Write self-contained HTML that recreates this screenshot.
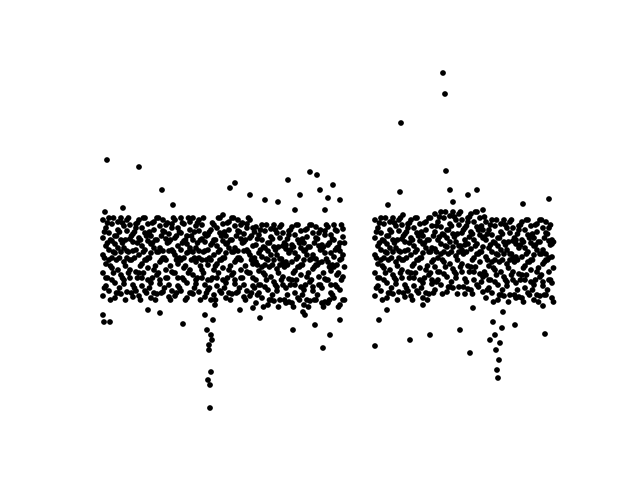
<!DOCTYPE html>
<html><head><meta charset="utf-8"><style>
html,body{margin:0;padding:0;background:#fff;}
svg{display:block;}
</style></head><body>
<svg id="chart" width="640" height="480" xmlns="http://www.w3.org/2000/svg"></svg>
<script>
const times1 = [0,3,6,9,12,15,18,21,24,27,30,33,36,39,42,45,48,51,54,57,60,63,66,69,72,75,78,81,84,87,90,93,96,99,102,105,108,111,114,117,120,123,126,129,132,135,138,141,144,147,150,153,156,159,162,165,168,171,174,177,180,183,186,189,192,195,198,201,204,207,210,213,216,219,222,225,228,231,234,237,240];
const fluxes1 = [
[134,157,175,192,210],[144,166,184,202,152],[139,170,180,197,212],[150,162,189,206,172],[132,177,147,194,186],[160,200,137,182,208],
[136,155,178,190,212],[146,168,182,204,150],[138,172,179,199,210],[152,160,191,205,170],[133,179,145,196,188],[158,202,139,180,206],
[134,157,175,192,210],[144,166,184,202,152],[139,170,180,197,212],[150,162,189,206,172],[132,177,147,194,186],[160,200,137,182,208],
[136,155,178,190,212],[146,168,182,204,150],[138,172,179,199,210],[152,160,191,205,170],[133,179,145,196,188],[158,202,139,180,206],
[134,157,175,192,210],[144,166,184,202,152],[139,170,180,197,212],[150,162,189,206,172],[132,177,147,194,186],[160,200,137,182,208],
[136,155,178,190,212],[146,168,182,204,150],[138,172,179,199,210],[152,160,191,205,170],[133,179,145,196,188],[140,180,150,165,195],
[130,150,170,185,200],[135,160,175,190,205],[144,166,184,202,152],[139,170,180,197,212],[150,162,189,206,172],[132,177,147,194,186],
[160,200,137,182,208],[136,155,178,190,212],[146,168,182,204,150],[138,172,179,199,210],[152,160,191,205,170],[133,179,145,196,188],
[158,202,139,180,206],[134,157,175,192,210],[144,166,184,202,152],
[127,150,168,185,203],[137,159,177,195,145],[132,163,173,190,205],[143,155,182,199,165],[125,170,140,187,179],[153,193,130,175,201],
[129,148,170,183,205],[139,161,175,197,143],[130,165,171,192,203],[145,153,184,197,167],[127,168,142,185,181],[151,195,128,177,199],
[127,150,168,185,203],[137,159,177,195,145],[132,163,173,190,205],[143,155,182,199,165],[125,170,140,187,179],[153,193,130,175,201],
[129,148,170,183,205],[139,161,175,197,143],[130,165,171,192,203],[145,153,184,197,167],[127,168,142,185,181],[151,195,128,177,199],
[127,150,168,185,203],[137,159,177,195,145],[132,163,173,190,205],[143,155,182,199,165],[125,170,140,187,179],[153,193,130,175,201]
];
const fluxesB1 = [
[142,172,198],[152,187,207],[130,164,190],[157,178,212],[137,194,170],
[142,172,198],[152,187,207],[130,164,190],[157,178,212],[137,194,170],
[142,172,198],[152,187,207],[130,164,190],[157,178,212],[137,194,170],
[142,172,198],[152,187,207],[130,164,190],[157,178,212],[137,194,170],
[142,172,198],[152,187,207],[130,164,190],[157,178,212],[137,194,170],
[142,172,198],[152,187,207],[130,164,190],[157,178,212],[137,194,170],
[142,172,198],[152,187,207],[130,164,190],[157,178,212],[137,194,170],
[142,172,198],[152,187,207],[130,164,190],[157,178,212],[137,194,170],
[142,172,198],[152,187,207],[130,164,190],[157,178,212],[137,194,170],
[142,172,198],[152,187,207],[130,164,190],[157,178,212],[137,194,170],
[142,172,198],
[135,165,191],[145,180,200],[123,157,183],[150,171,205],[130,187,163],
[135,165,191],[145,180,200],[123,157,183],[150,171,205],[130,187,163],
[135,165,191],[145,180,200],[123,157,183],[150,171,205],[130,187,163],
[135,165,191],[145,180,200],[123,157,183],[150,171,205],[130,187,163],
[135,165,191],[145,180,200],[123,157,183],[150,171,205],[130,187,163],
[135,165,191],[145,180,200],[123,157,183],[150,171,205],[130,187,163]
];
const times2 = [272,275,278,281,284,287,290,293,296,299,302,305,308,311,314,317,320,323,326,329,332,335,338,341,344,347,350,353,356,359,362,365,368,371,374,377,380,383,386,389,392,395,398,401,404,407,410,413,416,419,422,425,428,431,434,437,440,443,446,449];
const fluxes2 = [
[134,157,175,192,210],[144,166,184,202,152],[139,170,180,197,212],[150,162,189,206,172],[132,177,147,194,186],[160,200,137,182,208],
[136,155,178,190,212],[146,168,182,204,150],[138,172,179,199,210],[152,160,191,205,170],[133,179,145,196,188],[158,202,139,180,206],
[134,157,175,192,210],[144,166,184,202,152],[139,170,180,197,212],[150,162,189,206,172],[132,177,147,194,186],[160,200,137,182,208],
[136,155,178,190,212],[146,168,182,204,150],
[140,163,181,198,216],[150,172,190,208,158],[145,176,186,203,218],[156,168,195,212,178],[138,183,153,200,192],[166,206,143,188,214],
[142,161,183,196,218],[152,174,188,210,156],[143,178,184,205,216],[158,166,197,210,180],[136,185,151,202,190],[164,208,141,186,212],
[140,163,181,198,216],[150,172,190,208,158],[145,176,186,203,218],[156,168,195,212,178],[138,183,153,200,192],
[132,155,173,190,208],[142,164,182,200,150],[137,168,178,195,210],[148,160,187,204,170],[130,175,145,192,184],[158,198,135,180,206],
[134,153,176,188,210],[144,166,180,202,148],[135,170,176,197,208],[150,158,189,202,172],[132,173,147,190,186],[156,200,133,182,204],
[132,155,173,190,208],[142,164,182,200,150],[137,168,178,195,210],[148,160,187,204,170],[130,175,145,192,184],[158,198,135,180,206],
[134,153,176,188,210],[144,166,180,202,148],[135,170,176,197,208],[150,158,189,202,172],[132,173,147,190,186]
];
const fluxesB2 = [
[142,172,198],[152,187,207],[130,164,190],[157,178,212],[137,194,170],
[142,172,198],[152,187,207],[130,164,190],[157,178,212],[137,194,170],
[142,172,198],[152,187,207],[130,164,190],[157,178,212],[137,194,170],
[142,172,198],[152,187,207],[130,164,190],[157,178,212],[137,194,170],
[148,178,204],[158,193,213],[136,170,196],[163,184,218],[143,200,176],
[148,178,204],[158,193,213],[136,170,196],[163,184,218],[143,200,176],
[148,178,204],[158,193,213],[136,170,196],[163,184,218],[143,200,176],
[148,178,204],[158,193,213],
[140,170,196],[150,185,205],[128,162,188],[155,176,210],[135,192,168],
[140,170,196],[150,185,205],[128,162,188],[155,176,210],[135,192,168],
[140,170,196],[150,185,205],[128,162,188],[155,176,210],[135,192,168],
[140,170,196],[150,185,205],[128,162,188],[155,176,210],[135,192,168],
[140,170,196],[150,185,205],[128,162,188]
];
const outTimes = [4,36,59,0,7,1,80,57,107,107,105,108,106,109,104,110,102,112,106,108,132,127,185,207,214,230,197,217,162,147,222,192,237,220,227,212,190,157,137,237,202,340,342,298,343,347,374,297,285,446,365,380,272,276,307,327,367,387,442,357,412,395,394,396,393,397,392,399,390,2,20,45,70,120,150,175,200,225,284,300,320,350,370,400,420,440];
const outFlux = [270,263,240,115,108,108,106,117,22,45,50,58,80,90,100,110,115,125,85,95,247,242,250,258,255,245,235,240,230,235,220,220,230,82,95,105,100,112,120,110,115,357,336,307,259,240,240,238,225,231,235,220,84,110,90,95,77,90,96,100,105,52,60,70,80,87,95,102,108,218,222,120,225,215,122,228,118,232,120,215,125,228,122,118,226,124];

const svg = document.getElementById('chart');
const NS = 'http://www.w3.org/2000/svg';
const xScale = t => 103 + t;
const yScale = f => 430 - f;
function dot(t, f, name) {
  const c = document.createElementNS(NS, 'circle');
  c.setAttribute('cx', xScale(t));
  c.setAttribute('cy', yScale(f));
  c.setAttribute('r', 2.9);
  c.setAttribute('fill', '#000');
  
  
  svg.appendChild(c);
}
times1.forEach((t, i) => fluxes1[i].forEach(f => dot(t, f, 'data-point')));
times1.forEach((t, i) => fluxesB1[i].forEach(f => dot(t + 1.5, f, 'data-point')));
times2.forEach((t, i) => fluxes2[i].forEach(f => dot(t, f, 'data-point')));
times2.forEach((t, i) => fluxesB2[i].forEach(f => dot(t + 1.5, f, 'data-point')));
outTimes.forEach((t, i) => dot(t, outFlux[i], 'outlier-point'));
</script>
</body></html>
